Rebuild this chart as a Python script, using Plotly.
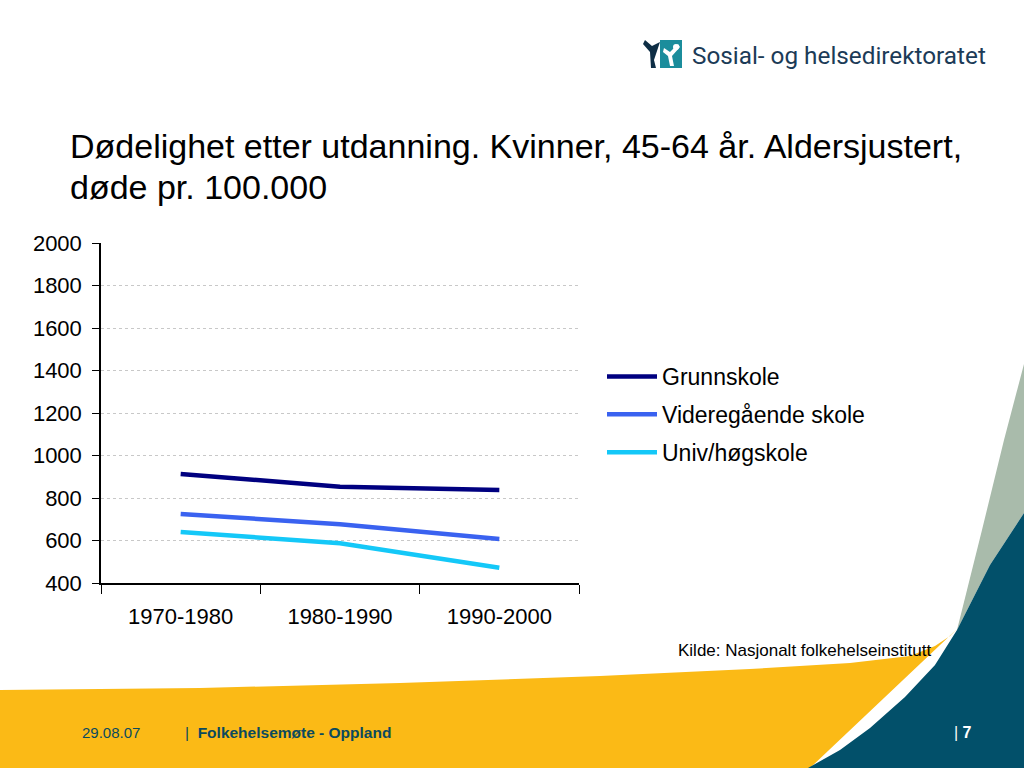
import plotly.graph_objects as go

# ---- data ----
periods = ["1970-1980", "1980-1990", "1990-2000"]
grunnskole = [913, 853, 838]
videregaende = [725, 676, 607]
univ = [640, 587, 472]
series_names = ["Grunnskole", "Videregående skole", "Univ/høgskole"]
series_colors = ["#000080", "#3A62F0", "#14C8F8"]
y_ticks = [400, 600, 800, 1000, 1200, 1400, 1600, 1800, 2000]

W, H = 1024, 768
def px(x):
    return x / W
def py(y):
    return 1 - y / H

fig = go.Figure()
for name, vals, col in zip(series_names, [grunnskole, videregaende, univ], series_colors):
    fig.add_trace(go.Scatter(x=periods, y=vals, mode="lines", name=name,
                             legendgroup=name,
                             line=dict(color=col, width=4.5)))

def path(points, close=True):
    s = "M " + " L ".join(f"{px(x):.5f},{py(y):.5f}" for x, y in points)
    return s + (" Z" if close else "")

shapes = []
# yellow bottom band
yellow_pts = [(0, 690), (200, 688), (400, 683), (600, 676), (750, 669), (850, 663),
              (910, 656), (935, 646), (950, 636), (958, 628), (810, 768), (0, 768)]
shapes.append(dict(type="path", xref="paper", yref="paper", path=path(yellow_pts),
                   fillcolor="#FBBA16", line=dict(width=0), layer="below"))
# grey-green wedge
grey_pts = [(1024, 364), (1004, 440), (982, 530), (967, 590), (957, 630), (990, 565), (1024, 513)]
shapes.append(dict(type="path", xref="paper", yref="paper", path=path(grey_pts),
                   fillcolor="#A9BBAB", line=dict(width=0), layer="below"))
# dark teal
teal_pts = [(1024, 513), (990, 565), (957, 630), (935, 665), (905, 697), (870, 728), (840, 750),
            (808, 768), (1024, 768)]
shapes.append(dict(type="path", xref="paper", yref="paper", path=path(teal_pts),
                   fillcolor="#02506A", line=dict(width=0), layer="below"))
# logo icon
shapes.append(dict(type="rect", xref="paper", yref="paper",
                   x0=px(660), x1=px(682), y0=py(68), y1=py(40),
                   fillcolor="#1B8D9C", line=dict(width=0)))
shapes.append(dict(type="path", xref="paper", yref="paper",
                   path=path([(645, 40), (652, 46), (660, 42), (658, 48), (654, 60), (656, 68), (651, 68), (650, 52), (643, 44)]),
                   fillcolor="#0E2E45", line=dict(width=0)))
shapes.append(dict(type="path", xref="paper", yref="paper",
                   path=path([(664, 48), (670, 52), (678, 44), (680, 47), (672, 56), (674, 66), (670, 66), (668, 56), (663, 52)]),
                   fillcolor="#FFFFFF", line=dict(width=0)))
shapes.append(dict(type="circle", xref="paper", yref="paper",
                   x0=px(673), x1=px(679), y0=py(50), y1=py(44),
                   fillcolor="#FFFFFF", line=dict(width=0)))

FONT = "Liberation Sans, Arial"
annotations = [
    dict(text="Dødelighet etter utdanning. Kvinner, 45-64 år. Aldersjustert,",
         x=px(68), y=py(146), xanchor="left", yanchor="middle",
         showarrow=False, xref="paper", yref="paper",
         font=dict(family=FONT, size=34, color="#000000")),
    dict(text="døde pr. 100.000",
         x=px(68), y=py(187), xanchor="left", yanchor="middle",
         showarrow=False, xref="paper", yref="paper",
         font=dict(family=FONT, size=34, color="#000000")),
    dict(text="Sosial- og helsedirektoratet", x=px(690), y=py(55), xanchor="left", yanchor="middle",
         showarrow=False, xref="paper", yref="paper",
         font=dict(family="Roboto", size=24.3, color="#1C3B57")),
    dict(text="Kilde: Nasjonalt folkehelseinstitutt", x=px(676), y=py(650), xanchor="left", yanchor="middle",
         showarrow=False, xref="paper", yref="paper",
         font=dict(family=FONT, size=17, color="#000000")),
    dict(text="29.08.07", x=px(80), y=py(732), xanchor="left", yanchor="middle",
         showarrow=False, xref="paper", yref="paper",
         font=dict(family=FONT, size=15, color="#0B4A5E")),
    dict(text="|  <b>Folkehelsemøte - Oppland</b>", x=px(183), y=py(732), xanchor="left", yanchor="middle",
         showarrow=False, xref="paper", yref="paper",
         font=dict(family=FONT, size=15.5, color="#0B4A5E")),
    dict(text="| <b>7</b>", x=px(952), y=py(732), xanchor="left", yanchor="middle",
         showarrow=False, xref="paper", yref="paper",
         font=dict(family=FONT, size=16, color="#FFFFFF")),
]

fig.update_layout(
    width=W, height=H,
    margin=dict(l=0, r=0, t=0, b=0, autoexpand=False),
    paper_bgcolor="white", plot_bgcolor="white",
    font=dict(family=FONT, size=22, color="#000000"),
    showlegend=True,
    legend=dict(x=px(602), y=py(355), xanchor="left", yanchor="top",
                font=dict(size=23, color="#000000"), tracegroupgap=5,
                bgcolor="rgba(0,0,0,0)", itemwidth=50),
    shapes=shapes,
    annotations=annotations,
    xaxis=dict(domain=[px(101), px(579)], type="category", range=[-0.5, 2.5],
               showline=True, linecolor="#000000", linewidth=1.5,
               ticks="outside", tickson="boundaries", ticklen=9, tickcolor="#000000",
               showgrid=False, zeroline=False, automargin=False,
               ticklabelstandoff=13, tickfont=dict(size=22)),
    yaxis=dict(domain=[py(583), py(243)], range=[400, 2000], tickvals=y_ticks,
               showline=True, linecolor="#000000", linewidth=1.5,
               ticks="outside", ticklen=7, tickcolor="#000000",
               showgrid=True, gridcolor="#C8C8C8", griddash="dot", gridwidth=1,
               zeroline=False, automargin=False,
               ticklabelstandoff=6, tickfont=dict(size=22)),
)

fig.write_html("out.html", config={"displayModeBar": False},
               post_script="document.body.style.margin='0';document.body.style.overflow='hidden';")
